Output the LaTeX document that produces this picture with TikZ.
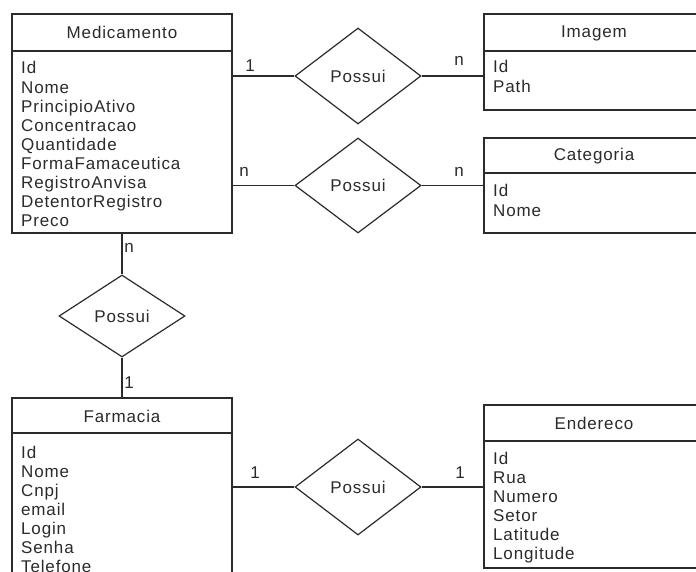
\documentclass[tikz,border=0pt]{standalone}
\usepackage{fontspec}
\setmainfont{Liberation Sans}[LetterSpace=5.0]
\usetikzlibrary{shapes.geometric}
\definecolor{ink}{HTML}{2B2B2B}
\begin{document}
\begin{tikzpicture}[x=1pt,y=-1pt,
  every node/.style={text=ink,font=\fontsize{17}{19.1}\selectfont},
  entity/.style={draw=ink,line width=1.2pt,rectangle,minimum width=220pt,inner sep=0pt,fill=white},
  rel/.style={draw=ink,line width=1.2pt,diamond,inner sep=0pt,fill=white},
  conn/.style={draw=ink,line width=1.2pt},
  sep/.style={draw=ink,line width=1.2pt},
  attr/.style={anchor=base west,inner sep=0pt},
  card/.style={anchor=base,inner sep=0pt}]
\useasboundingbox (0,0) rectangle (696,572);
\clip (0,0) rectangle (696,572);
\fill[white] (0,0) rectangle (696,572);

% Entities
\node[entity,minimum height=219pt] (med) at (122,123.5) {};
\node[entity,minimum height=96pt] (img) at (594,62) {};
\node[entity,minimum height=95pt] (cat) at (594,185.5) {};
\node[entity,minimum height=210pt] (farm) at (122,503) {};
\node[entity,minimum height=163pt] (end) at (594,486.5) {};

% Header separators
\draw[sep] (12,51) -- (232,51);
\draw[sep] (484,51) -- (704,51);
\draw[sep] (484,173) -- (704,173);
\draw[sep] (12,433) -- (232,433);
\draw[sep] (484,441) -- (704,441);

% Headers
\node (medh) at (122,32.5) {Medicamento};
\node (imgh) at (594,33) {Imagem};
\node (cath) at (594,156) {Categoria};
\node (farmh) at (122,416) {Farmacia};
\node (endh) at (594,423) {Endereco};

% Attributes
\foreach \t [count=\i] in {Id,Nome,PrincipioAtivo,Concentracao,Quantidade,FormaFamaceutica,RegistroAnvisa,DetentorRegistro,Preco}
  \node[attr] (med-\i) at (21,{74+(\i-1)*19.1}) {\t};
\foreach \t [count=\i] in {Id,Path}
  \node[attr] (img-\i) at (493,{73+(\i-1)*19.1}) {\t};
\foreach \t [count=\i] in {Id,Nome}
  \node[attr] (cat-\i) at (493,{197+(\i-1)*19.1}) {\t};
\foreach \t [count=\i] in {Id,Nome,Cnpj,email,Login,Senha,Telefone}
  \node[attr] (farm-\i) at (21,{458+(\i-1)*19.1}) {\t};
\foreach \t [count=\i] in {Id,Rua,Numero,Setor,Latitude,Longitude}
  \node[attr] (end-\i) at (493,{464+(\i-1)*19.1}) {\t};

% Relationships
\node[rel,minimum width=126pt,minimum height=96pt] (r1) at (358,76) {Possui};
\node[rel,minimum width=126pt,minimum height=95pt] (r2) at (358,185.5) {Possui};
\node[rel,minimum width=126pt,minimum height=82pt] (r3) at (122,316) {Possui};
\node[rel,minimum width=126pt,minimum height=96pt] (r4) at (358,487) {Possui};

% Connectors
\draw[conn] (r1.west -| med.east) -- (r1.west);
\draw[conn] (r1.east) -- (r1.east -| img.west);
\draw[conn] (r2.west -| med.east) -- (r2.west);
\draw[conn] (r2.east) -- (r2.east -| cat.west);
\draw[conn] (med.south) -- (r3.north);
\draw[conn] (r3.south) -- (farm.north);
\draw[conn] (r4.west -| farm.east) -- (r4.west);
\draw[conn] (r4.east) -- (r4.east -| end.west);

% Cardinalities
\node[card] (c1a) at (250,72) {1};
\node[card] (c1b) at (459,66) {n};
\node[card] (c2a) at (244,177) {n};
\node[card] (c2b) at (459,177) {n};
\node[card] (c3a) at (129,252) {n};
\node[card] (c3b) at (129,388) {1};
\node[card] (c4a) at (255,478) {1};
\node[card] (c4b) at (460,478) {1};
\end{tikzpicture}
\end{document}
